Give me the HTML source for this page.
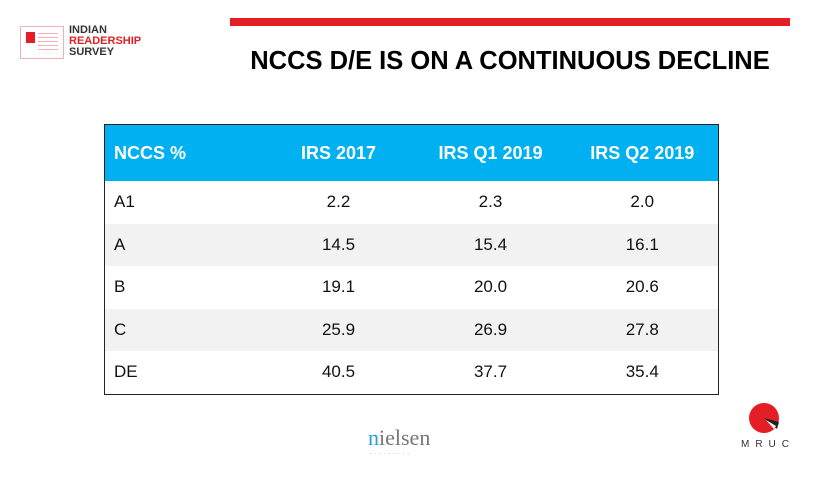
<!DOCTYPE html>
<html><head><meta charset="utf-8"><style>
body{margin:0;width:832px;height:481px;background:#fff;position:relative;overflow:hidden;font-family:"Liberation Sans",sans-serif}
.abs{position:absolute}
table{border-collapse:collapse;position:absolute;left:104px;top:124px;width:614px;border:1.5px solid #222;table-layout:fixed}
td,th{font-size:17px;color:#111;padding:0}
th{background:#00b0f0;color:#fff;font-weight:bold;height:56px;font-size:18px}
td{height:42.5px}
td.c,th.c{text-align:center}
td.l,th.l{text-align:left;padding-left:9px}
tr.g td{background:#f2f2f2}
</style></head><body>
<div class="abs" style="left:20px;top:26px;width:42px;height:31px;border:1px solid #f3b0b0;">
 <div style="position:absolute;left:5px;top:5px;width:9px;height:11px;background:#e31e24"></div>
 <div style="position:absolute;left:17px;top:6px;width:20px;height:1px;background:#f3b0b0;box-shadow:0 4px #f3b0b0,0 8px #f3b0b0,0 12px #f3b0b0,0 16px #f3b0b0"></div>
</div>
<div class="abs" style="left:69px;top:25px;font-size:11px;font-weight:bold;line-height:11px;color:#333">INDIAN<br><span style="color:#e31e24">READERSHIP</span><br>SURVEY</div>
<div class="abs" style="left:230px;top:18px;width:560px;height:8px;background:#e31e24"></div>
<div class="abs" style="left:210px;width:600px;top:47px;text-align:center;font-size:25.5px;font-weight:bold;color:#000">NCCS D/E IS ON A CONTINUOUS DECLINE</div>
<table>
<colgroup><col style="width:158px"><col style="width:152px"><col style="width:152px"><col style="width:152px"></colgroup>
<tr><th class="l">NCCS %</th><th class="c">IRS 2017</th><th class="c">IRS Q1 2019</th><th class="c">IRS Q2 2019</th></tr>
<tr><td class="l">A1</td><td class="c">2.2</td><td class="c">2.3</td><td class="c">2.0</td></tr>
<tr class="g"><td class="l">A</td><td class="c">14.5</td><td class="c">15.4</td><td class="c">16.1</td></tr>
<tr><td class="l">B</td><td class="c">19.1</td><td class="c">20.0</td><td class="c">20.6</td></tr>
<tr class="g"><td class="l">C</td><td class="c">25.9</td><td class="c">26.9</td><td class="c">27.8</td></tr>
<tr><td class="l">DE</td><td class="c">40.5</td><td class="c">37.7</td><td class="c">35.4</td></tr>
</table>
<div class="abs" style="left:368px;top:425px;font-family:'Liberation Serif',serif;font-size:22px;color:#777;letter-spacing:0px"><span style="color:#2a9fd6">n</span>ielsen</div>
<div class="abs" style="left:370px;top:450px;font-size:6px;color:#999;letter-spacing:3px">.........</div>
<svg class="abs" style="left:748px;top:402px" width="32" height="32" viewBox="0 0 32 32"><circle cx="16" cy="16" r="15" fill="#e31e24"/><polygon points="16,16 31,20 29,27" fill="#222"/><polygon points="18,18 28,24 26,27" fill="#fff"/></svg>
<div class="abs" style="left:741px;top:439px;font-size:10px;letter-spacing:6px;color:#333">MRUC</div>
</body></html>
